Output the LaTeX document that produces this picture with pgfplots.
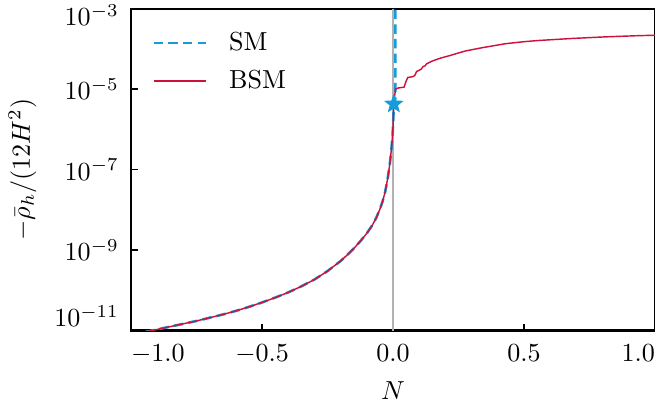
\documentclass[border=0pt]{standalone}
\usepackage{pgfplots}
\pgfplotsset{compat=1.18}
\definecolor{smblue}{RGB}{22,156,216}
\definecolor{bsmred}{RGB}{204,18,60}
\pgfdeclareplotmark{fstar}{%
  \pgfpathmoveto{\pgfpointpolar{90}{\pgfplotmarksize}}%
  \pgfpathlineto{\pgfpointpolar{126}{0.42\pgfplotmarksize}}%
  \pgfpathlineto{\pgfpointpolar{162}{\pgfplotmarksize}}%
  \pgfpathlineto{\pgfpointpolar{198}{0.42\pgfplotmarksize}}%
  \pgfpathlineto{\pgfpointpolar{234}{\pgfplotmarksize}}%
  \pgfpathlineto{\pgfpointpolar{270}{0.42\pgfplotmarksize}}%
  \pgfpathlineto{\pgfpointpolar{306}{\pgfplotmarksize}}%
  \pgfpathlineto{\pgfpointpolar{342}{0.42\pgfplotmarksize}}%
  \pgfpathlineto{\pgfpointpolar{18}{\pgfplotmarksize}}%
  \pgfpathlineto{\pgfpointpolar{54}{0.42\pgfplotmarksize}}%
  \pgfpathclose
  \pgfusepathqfillstroke
}
\begin{document}
\begin{tikzpicture}[trim axis right]
\begin{axis}[
  scale only axis,
  width=201pt, height=123.5pt,
  ymode=log,
  xmin=-1, xmax=1,
  ymin=1e-11, ymax=1e-3,
  axis line style={line width=0.9pt},
  every tick/.style={black, line width=0.6pt},
  tick align=inside,
  xtick pos=bottom, ytick pos=left,
  major tick length=2.7pt,
  yminorticks=false,
  xtick={-1,-0.5,0,0.5,1},
  xticklabels={\rlap{$-1.0$},$-0.5$,$0.0$,$0.5$,\llap{$1.0$}},
  ytick={1e-11,1e-9,1e-7,1e-5,1e-3},
  yticklabels={\raisebox{1.5pt}[0pt][0pt]{$10^{-11}$},$10^{-9}$,$10^{-7}$,$10^{-5}$,\raisebox{-6.5pt}[0pt][0pt]{$10^{-3}$}},
  xticklabel style={yshift=-2pt},
  yticklabel style={xshift=-1.2pt},
  xlabel={$N$},
  ylabel={$-\bar{\rho}_h/(12H^2)$},
  legend cell align=left,
  legend style={draw=none, fill=none, at={(axis description cs:0,1)}, anchor=north west,
    xshift=8pt, yshift=-8.7pt, inner sep=0pt, row sep=6pt,
    nodes={inner sep=0pt}},
  legend image code/.code={\draw[#1] (0pt,0pt) -- (20pt,0pt); \path (28.4pt,0pt);},
]
\addplot[gray!60, line width=0.8pt, forget plot] coordinates {(0,1e-11) (0,1e-3)};
\addplot[smblue, line width=1pt, dash pattern=on 3.6pt off 2pt] coordinates {
(-1.0,7.762e-12) (-0.95,9.120e-12) (-0.9,1.072e-11) (-0.85,1.259e-11) (-0.8,1.479e-11)
(-0.75,1.738e-11) (-0.7,2.089e-11) (-0.65,2.512e-11) (-0.6,3.090e-11) (-0.55,3.890e-11)
(-0.5,5.012e-11) (-0.45,6.607e-11) (-0.4,8.913e-11) (-0.35,1.259e-10) (-0.3,1.862e-10)
(-0.25,3.020e-10) (-0.2,5.370e-10) (-0.175,7.586e-10) (-0.15,1.096e-9) (-0.125,1.660e-9)
(-0.1,2.630e-9) (-0.08,4.074e-9) (-0.065,6.166e-9) (-0.05,1.047e-8) (-0.04,1.622e-8)
(-0.03,2.818e-8) (-0.02,6.310e-8) (-0.012,1.445e-7) (-0.006,3.388e-7) (-0.002,7.079e-7)
(0.0,1.259e-6) (0.003,4.266e-6) (0.009,6.0e-6) (0.009,1e-2)
};
\addlegendentry{SM}
\addplot[color=bsmred, line width=0.55pt] coordinates {
(-1.0,7.762e-12) (-0.95,9.120e-12) (-0.9,1.072e-11) (-0.85,1.259e-11) (-0.8,1.479e-11)
(-0.75,1.738e-11) (-0.7,2.089e-11) (-0.65,2.512e-11) (-0.6,3.090e-11) (-0.55,3.890e-11)
(-0.5,5.012e-11) (-0.45,6.607e-11) (-0.4,8.913e-11) (-0.35,1.259e-10) (-0.3,1.862e-10)
(-0.25,3.020e-10) (-0.2,5.370e-10) (-0.175,7.586e-10) (-0.15,1.096e-9) (-0.125,1.660e-9)
(-0.1,2.630e-9) (-0.08,4.074e-9) (-0.065,6.166e-9) (-0.05,1.047e-8) (-0.04,1.622e-8)
(-0.03,2.818e-8) (-0.02,6.310e-8) (-0.012,1.445e-7) (-0.006,3.388e-7) (-0.002,7.079e-7)
(0.0,1.259e-6) (0.003,4.266e-6) (0.009,1.0e-5) (0.02,1.072e-5) (0.042,1.122e-5) (0.05,1.585e-5)
(0.056,1.950e-5) (0.075,2.042e-5) (0.083,2.188e-5) (0.09,2.754e-5) (0.1,2.951e-5)
(0.108,3.162e-5) (0.114,3.631e-5) (0.122,3.802e-5) (0.128,4.266e-5) (0.15,5.012e-5)
(0.18,5.888e-5) (0.214,6.761e-5) (0.25,7.943e-5) (0.277,8.913e-5) (0.34,1.072e-4)
(0.429,1.349e-4) (0.5,1.514e-4) (0.556,1.622e-4) (0.683,1.820e-4) (0.81,1.995e-4)
(0.937,2.138e-4) (1.0,2.188e-4)
};
\addlegendentry{BSM}
\addplot[only marks, mark=fstar, mark size=3.4pt, draw=smblue, fill=smblue, forget plot] coordinates {(0.003,4.266e-6)};
\end{axis}
\end{tikzpicture}
\end{document}
